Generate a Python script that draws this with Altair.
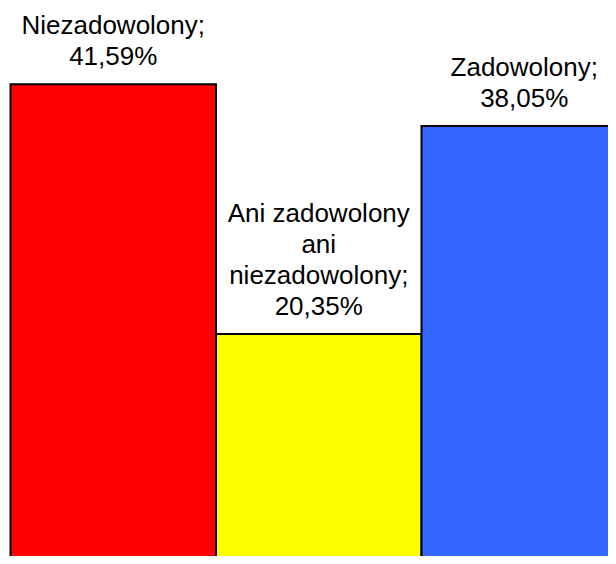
import altair as alt
import pandas as pd

categories = ["Niezadowolony", "Ani zadowolony ani niezadowolony", "Zadowolony"]
values = [41.59, 20.35, 38.05]
labels = [
    ["Niezadowolony;", "41,59%"],
    ["Ani zadowolony", "ani", "niezadowolony;", "20,35%"],
    ["Zadowolony;", "38,05%"],
]
colors = ["#FF0000", "#FFFF00", "#3366FF"]

df = pd.DataFrame({"cat": categories, "value": values})

rows = []
for cat, val, lines in zip(categories, values, labels):
    n = len(lines)
    for i, line in enumerate(lines):
        rows.append({"cat": cat, "value": val, "line": line, "k": n - 1 - i})
df_lab = pd.DataFrame(rows)

FONT_SIZE = 26
LINE_H = 31
GAP = 14

x_enc = alt.X("cat:N", sort=categories, axis=None,
              scale=alt.Scale(range=[2.5, 619], paddingInner=0, paddingOuter=0))
y_scale = alt.Scale(domain=[1.447, 48.09], nice=False, zero=False)
y_enc = alt.Y("value:Q", scale=y_scale, axis=None)

bars = alt.Chart(df).mark_bar(stroke="black", strokeWidth=2, clip=True).encode(
    x=x_enc,
    y=y_enc,
    color=alt.Color("cat:N", scale=alt.Scale(domain=categories, range=colors), legend=None),
)

text_layers = []
for k in range(max(len(l) for l in labels)):
    t = alt.Chart(df_lab).transform_filter(alt.datum.k == k).mark_text(
        font="Liberation Sans", fontSize=FONT_SIZE, baseline="bottom",
        align="center", dy=-GAP - LINE_H * k, color="black",
    ).encode(x=x_enc, y=y_enc, text="line:N")
    text_layers.append(t)

chart = alt.layer(bars, *text_layers).properties(
    width=600, height=548, padding=0, background="white"
).configure_view(stroke=None)

chart.save("out.html", embed_options={"renderer": "svg", "actions": False})
